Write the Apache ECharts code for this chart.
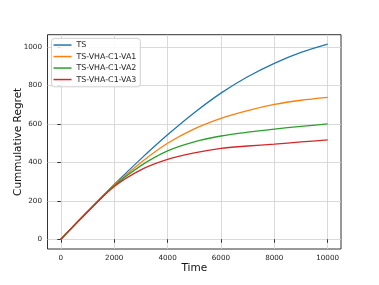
<!DOCTYPE html>
<html><head><meta charset="utf-8">
<script src="https://cdn.jsdelivr.net/npm/echarts@6/dist/echarts.min.js"></script>
<style>html,body{margin:0;padding:0;background:#fff}#c{width:379px;height:285px}</style>
</head><body><div id="c"></div>
<script>
const times = [0,1000,2000,3000,4000,5000,6000,7000,8000,9000,10000];
const seriesNames = ['TS','TS-VHA-C1-VA1','TS-VHA-C1-VA2','TS-VHA-C1-VA3'];
const ts   = [0,145,285,418,543,658,760,845,915,972,1015];
const va1  = [0,144,281,399,499,574,629,669,701,723,738];
const va2  = [0,143,278,383,460,507,537,557,573,587,600];
const va3  = [0,142,274,361,415,449,473,485,495,506,517];
const xTicks = [0,2000,4000,6000,8000,10000];
const yTicks = [0,200,400,600,800,1000];
const colors = ['#1f77b4','#ff7f0e','#2ca02c','#d62728'];
const allData = [ts,va1,va2,va3];

const chart = echarts.init(document.getElementById('c'), null, {renderer:'canvas'});
const font = 'DejaVu Sans';
chart.setOption({
  animation:false,
  backgroundColor:'#fff',
  grid:{left:47.5,right:38,top:34.7,bottom:36,containLabel:false,outerBoundsMode:'none',
        show:true,borderColor:'#333',borderWidth:1,backgroundColor:'transparent'},
  legend:{
    orient:'vertical',left:51.5,top:38.3,
    data:seriesNames.map(n=>({name:n,icon:'rect'})),
    itemWidth:18,itemHeight:1.5,itemGap:0,
    textStyle:{fontFamily:font,fontSize:7.9,color:'#222',lineHeight:11.5},
    borderColor:'#d0d0d0',borderWidth:1,borderRadius:3,padding:[1,4,1.5,2],
    backgroundColor:'rgba(255,255,255,0.85)'
  },
  xAxis:{
    type:'value',min:-500,max:10500,
    name:'Time',nameLocation:'middle',nameGap:14,nameMoveOverlap:false,
    nameTextStyle:{fontFamily:font,fontSize:10.5,color:'#111'},
    axisLine:{show:false},
    axisTick:{show:true,length:3.5,customValues:xTicks,lineStyle:{color:'#333'}},
    axisLabel:{customValues:xTicks,fontFamily:font,fontSize:7.2,color:'#222',margin:5.5,formatter:v=>String(v)},
    splitLine:{show:true,lineStyle:{color:'#d0d0d0',width:0.8}}
  },
  yAxis:{
    type:'value',min:-50.6,max:1063.9,
    name:'Cummulative Regret',nameLocation:'middle',nameGap:24,nameMoveOverlap:false,
    nameTextStyle:{fontFamily:font,fontSize:10.5,color:'#111'},
    axisLine:{show:false},
    axisTick:{show:true,length:3.5,customValues:yTicks,lineStyle:{color:'#333'}},
    axisLabel:{customValues:yTicks,fontFamily:font,fontSize:7.2,color:'#222',margin:5.5,formatter:v=>String(v)},
    splitLine:{show:true,lineStyle:{color:'#d0d0d0',width:0.8}}
  },
  series: seriesNames.map((n,i)=>({
    name:n,type:'line',smooth:0.3,showSymbol:false,
    data:times.map((t,j)=>[t,allData[i][j]]),
    lineStyle:{color:colors[i],width:1.3},itemStyle:{color:colors[i]}
  }))
});
</script></body></html>
